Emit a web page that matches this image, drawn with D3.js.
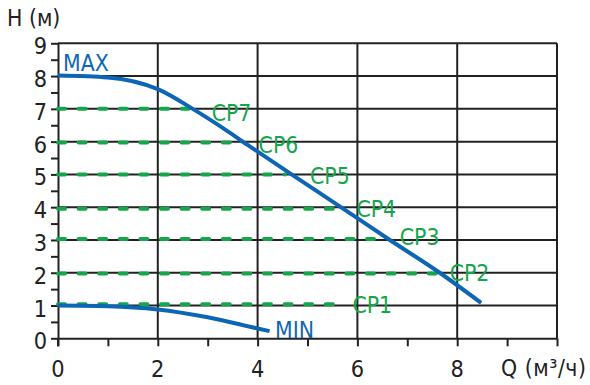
<!DOCTYPE html>
<html><head><meta charset="utf-8">
<script src="https://cdn.jsdelivr.net/npm/d3@7"></script>
<style>
html,body{margin:0;padding:0;background:#fff;}
svg{display:block;}
text{font-family:"DejaVu Sans",Verdana,sans-serif;}
</style></head>
<body>
<script>
// ---- data ----
const xTickLabels = [0, 2, 4, 6, 8];
const yTickLabels = [0, 1, 2, 3, 4, 5, 6, 7, 8, 9];
const maxQ = [0, 1, 2, 2.7, 3.3, 3.8, 4.68, 5.72, 6.65, 7.65, 8.48];
const maxH = [8.02, 7.96, 7.6, 7.0, 6.42, 5.9, 5.0, 3.95, 3.0, 2.0, 1.08];
const minQ = [0, 1, 2, 3, 4, 4.24];
const minH = [1.0, 0.98, 0.88, 0.64, 0.3, 0.22];
const cpNames = ["CP7", "CP6", "CP5", "CP4", "CP3", "CP2", "CP1"];
const cpH = [7.0, 5.97, 5.0, 3.95, 3.03, 1.98, 1.04];
const cpEndQ = [2.7, 3.7, 4.55, 5.7, 6.6, 7.6, 5.7];
// label anchors (data units)
const cpLabelQ = [3.08, 4.02, 5.05, 5.98, 6.85, 7.85, 5.9];
const cpLabelH = [6.88, 5.9, 4.96, 3.95, 3.1, 2.0, 1.03];

const W = 590, H = 385;
const blue = "#0d66b5", green = "#16a54b", ink = "#222";
const SY = 1.12;

const svg = d3.select("body").append("svg").attr("width", W).attr("height", H);
const x = d3.scaleLinear().domain([0, 10]).range([58, 557]);
const y = d3.scaleLinear().domain([0, 9]).range([338.3, 43.3]);

function txt(px, py, s, anchor, color, fs) {
  return svg.append("text")
    .attr("transform", `translate(${px},${py}) scale(1,${SY})`)
    .attr("text-anchor", anchor || "start")
    .attr("fill", color || ink)
    .attr("font-size", fs || 20.5)
    .text(s);
}

// grid
const grid = svg.append("g").attr("stroke", ink).attr("stroke-width", 2);
grid.selectAll(".h").data(d3.range(1, 10)).join("line")
  .attr("x1", x(0)).attr("x2", x(10)).attr("y1", d => y(d)).attr("y2", d => y(d));
grid.selectAll(".v").data([2, 4, 6, 8, 10]).join("line")
  .attr("x1", d => x(d)).attr("x2", d => x(d)).attr("y1", y(0)).attr("y2", y(9));

// axes (tick marks)
const xAxis = d3.axisBottom(x).tickValues(d3.range(0, 11, 1)).tickSize(8).tickSizeOuter(0).tickFormat("");
const yAxis = d3.axisLeft(y).tickValues(d3.range(0, 9.01, 0.5)).tickSize(7).tickSizeOuter(0).tickFormat("");
const gx = svg.append("g").attr("transform", `translate(0,${y(0)})`).call(xAxis);
const gy = svg.append("g").attr("transform", `translate(${x(0)},0)`).call(yAxis);
[gx, gy].forEach(g => {
  g.select(".domain").attr("stroke", ink).attr("stroke-width", 2);
  g.selectAll(".tick line").attr("stroke", ink).attr("stroke-width", 2);
});
svg.append("line").attr("x1", x(0)).attr("x2", x(0)).attr("y1", y(0)).attr("y2", y(0) + 8)
  .attr("stroke", ink).attr("stroke-width", 2);

// tick labels
xTickLabels.forEach(v => txt(x(v), 376.5, v, "middle", ink, 21));
yTickLabels.forEach(v => txt(47, y(v) + 11, v, "end", ink, 21));

// axis titles
txt(7, 26, "H (м)", "start");
txt(501, 376, "Q (м³/ч)", "start").attr("textLength", 85).attr("lengthAdjust", "spacing");

// CP dashed lines
cpNames.forEach((n, i) => {
  svg.append("line")
    .attr("x1", x(0)).attr("x2", x(cpEndQ[i]))
    .attr("y1", y(cpH[i])).attr("y2", y(cpH[i]))
    .attr("stroke", green).attr("stroke-width", 4)
    .attr("stroke-linecap", "round")
    .attr("stroke-dasharray", "7,13.6");
});

// curves
const line = d3.line().x(d => x(d[0])).y(d => y(d[1])).curve(d3.curveMonotoneX);
svg.append("path").datum(maxQ.map((q, i) => [q, maxH[i]]))
  .attr("d", line).attr("fill", "none").attr("stroke", blue).attr("stroke-width", 4);
svg.append("path").datum(minQ.map((q, i) => [q, minH[i]]))
  .attr("d", line).attr("fill", "none").attr("stroke", blue).attr("stroke-width", 4);

// labels
cpNames.forEach((n, i) => {
  txt(x(cpLabelQ[i]), y(cpLabelH[i]) + 8, n, "start", green);
});
txt(63, 71, "MAX", "start", blue);
txt(275, 338, "MIN", "start", blue);
</script>
</body></html>
